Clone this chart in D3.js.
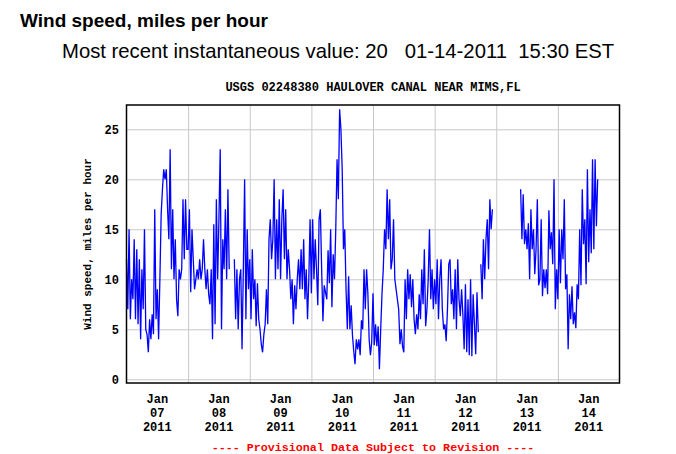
<!doctype html>
<html>
<head>
<meta charset="UTF-8">
<title>Wind speed, miles per hour</title>
<script src="https://d3js.org/d3.v7.min.js"></script>
<style>
body{margin:0;background:#fff;}
svg text{font-family:"Liberation Mono","DejaVu Sans Mono",monospace;font-weight:bold;font-size:12px;fill:#000;}
</style>
</head>
<body>
<script>
// half-hourly readings in mph, one array per day (null = no data)
var jan07 = [12,7,15,6, 10,8,14,6, 13,5.5,12,4, 11,7,15,5, 4.5,2.7,6,4, 6.5,4.5,17,6, 9,4,10,16.5, 19,21,20,21, 17,14,23,11, 17,10,14,8, 6.3,11,10,11, 18,12,18,13];
var jan08 = [13,17,8.7,15, 12,9,10,11, 10,12,10,11, 14,11,9,11, 8.5,7.5,11,4, 15.5,5.5,18,10, 16,23,5,14, 11,17,10,19, 11,null,null,null, 12,6,11,5, 10,11,3,11, 20,6,15,9];
var jan09 = [12,6,13,8, 10,5.3,9.6,6, 5,3.5,2.7,4.5, 5.5,9,5.5,14, 16,12,14,20, 10,16,11,18, 10,16,19,12, 17,10,13,11, 8,10,5.5,9.4, 7,10,12,9, 13,9,14,8, 11,6,10,16];
var jan10 = [8.6,16,10,14, 11,7.4,16,17, 11,5.8,9.4,8.7, 8,12.9,9.6,15, 7.2,12.5,10,15, 22,18,27,25, 21,13,15,9, 5,10.3,5,7.4, 4.4,2.8,1.5,4, 3,4,2.4,5.9, 5,11,7,11, 8.6,4,2.4,3.7];
var jan11 = [8.6,3.4,5.5,3.3, 5.3,1,5,8.5, 11,15,13,19, 14,18,11,12, 16,10,9,8, 7,3.5,5,3.3, 2.7,10,6,11, 8,10.5,7.2,10, 6,4.5,6.5,5, 8.5,6,11,7.5, 13,5.3,7,10, 15,8,11,7];
var jan12 = [10,7.5,12,6, 10,12,7,5, 5.5,3.8,7,11.5, 12,7.5,9,6, 11,5,12,8, 6.3,9,6.5,3, 9.5,2.7,8,2.4, 10,2.3,8.5,5.5, 2.5,8.7,4.7,null, 11.5,8,14,10, 14,16,11,18, 15,17,null,null];
var jan13 = [null,null,null,null, null,null,null,null, null,null,null,null, null,null,null,null, null,null,null,19, 14,18.5,13.5,15, 13,15.6,10,17, 13,15,10.5,13, 18,9.4,10,16, 8.3,11,9.1,11, 8.5,16.9,13,14.7, 11.5,20,7,11];
var jan14 = [8,15,9.6,15, 12,18,9,10.5, 3,8.5,6,9.3, 5.5,6.7,5.1,9.5, 8,15,9.4,19, 13.5,16,9.5,21, 11.7,17,12.6,22, 13,22,15.3,20];

var days = [7,8,9,10,11,12,13,14];
var readings = [jan07,jan08,jan09,jan10,jan11,jan12,jan13,jan14];
var yTicks = [0,5,10,15,20,25];

var w = 676, h = 454;
var pLeft = 126.5, pRight = 619.5, pTop = 105, pBottom = 383;

var series = [];
readings.forEach(function(arr, d){
    arr.forEach(function(v, i){
        series.push({date: new Date(2011, 0, days[d], 0, 30*i), value: v});
    });
});

var svg = d3.select("body").append("svg").attr("width", w).attr("height", h);

var x = d3.scaleTime()
    .domain([new Date(2011,0,7), new Date(2011,0,15)])
    .range([pLeft, pRight]);
var y = d3.scaleLinear().domain([0,25]).range([379.3,129.3]);

// titles
svg.append("text").attr("x",20).attr("y",27)
    .style("font-family","'Liberation Sans',Arial,sans-serif").style("font-size","19px")
    .text("Wind speed, miles per hour");
svg.append("text").attr("x",62).attr("y",58).attr("xml:space","preserve")
    .style("font-family","'Liberation Sans',Arial,sans-serif").style("font-size","20.3px").style("font-weight","normal")
    .text("Most recent instantaneous value: 20   01-14-2011  15:30 EST");
svg.append("text").attr("x",(pLeft+pRight)/2).attr("y",91).attr("text-anchor","middle")
    .text("USGS 02248380 HAULOVER CANAL NEAR MIMS,FL");

// grid
var midnights = d3.timeDay.range(new Date(2011,0,8), new Date(2011,0,15));
var gx = svg.append("g").attr("transform","translate(0,"+pBottom+")")
    .call(d3.axisBottom(x).tickValues(midnights).tickSize(-(pBottom-pTop)).tickFormat(""));
gx.select(".domain").remove();
gx.selectAll("line").attr("stroke","#c8c8c8");

var gy = svg.append("g").attr("transform","translate("+pLeft+",0)")
    .call(d3.axisLeft(y).tickValues(yTicks).tickSize(-(pRight-pLeft)).tickPadding(7.5));
gy.select(".domain").remove();
gy.selectAll("line").attr("stroke","#c8c8c8");
gy.selectAll("text").attr("dy","0.35em");

// data line
var line = d3.line()
    .defined(function(d){ return d.value != null; })
    .x(function(d){ return x(d.date); })
    .y(function(d){ return y(d.value); });
svg.append("path").datum(series)
    .attr("fill","none").attr("stroke","#0000ff").attr("stroke-width",1.3)
    .attr("d", line);

// frame
svg.append("rect").attr("x",pLeft).attr("y",pTop)
    .attr("width",pRight-pLeft).attr("height",pBottom-pTop)
    .attr("fill","none").attr("stroke","#000").attr("stroke-width",1.5);

// date labels at noon
var noons = days.map(function(d){ return new Date(2011,0,d,12); });
var lab = svg.selectAll(".dlab").data(noons).enter().append("text")
    .attr("class","dlab").attr("text-anchor","middle");
lab.append("tspan").attr("x",function(d){ return x(d); }).attr("y",403).text(d3.timeFormat("%b"));
lab.append("tspan").attr("x",function(d){ return x(d); }).attr("y",417).text(d3.timeFormat("%d"));
lab.append("tspan").attr("x",function(d){ return x(d); }).attr("y",431).text(d3.timeFormat("%Y"));

// axis title
svg.append("text").attr("transform","translate(90.5,244) rotate(-90)")
    .attr("text-anchor","middle").style("font-size","11px").text("Wind speed, miles per hour");

svg.append("text").attr("x",(pLeft+pRight)/2).attr("y",451).attr("text-anchor","middle")
    .style("fill","#ff0000").style("font-size","11.7px")
    .text("---- Provisional Data Subject to Revision ----");
</script>
</body>
</html>
